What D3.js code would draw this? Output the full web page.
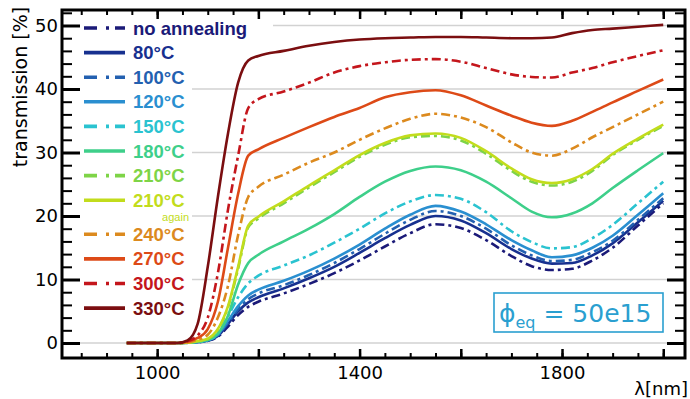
<!DOCTYPE html>
<html>
<head>
<meta charset="utf-8">
<script src="https://cdn.jsdelivr.net/npm/d3@7"></script>
<style>
  body { margin: 0; background: #fff; }
  svg text { font-family: "DejaVu Sans", sans-serif; }
</style>
</head>
<body>
<div class="div_d3"></div>
<script>
// wavelength grid (nm) the curves were read at
const lambda = [940, 1000, 1040, 1060, 1080, 1100, 1120, 1140, 1160, 1180, 1200, 1250, 1300, 1350, 1400,
                1450, 1500, 1550, 1600, 1650, 1700, 1740, 1780, 1820, 1860, 1900, 1950, 2000]

// transmission [%] per annealing step
const noAnnealing = [0, 0, 0, 0.03, 0.12, 0.35, 1.0, 2.6, 4.4, 5.7, 6.5, 7.8, 9.3, 11.0, 13.0, 15.2, 17.3, 18.7, 18.1, 16.2, 13.7, 12.1, 11.5, 11.7, 13.0, 15.0, 18.5, 22.0]
const t80  = [0, 0, 0, 0.03, 0.13, 0.4, 1.1, 3.0, 5.0, 6.4, 7.2, 8.6, 10.2, 12.0, 14.2, 16.5, 18.6, 20.0, 19.3, 17.3, 14.8, 13.3, 12.5, 12.6, 13.8, 15.7, 19.0, 22.4]
const t100 = [0, 0, 0, 0.03, 0.14, 0.4, 1.2, 3.2, 5.3, 6.9, 7.8, 9.1, 10.7, 12.6, 14.8, 17.2, 19.4, 20.8, 20.0, 18.0, 15.4, 13.8, 12.9, 13.1, 14.3, 16.1, 19.4, 22.8]
const t120 = [0, 0, 0, 0.03, 0.15, 0.45, 1.3, 3.5, 5.8, 7.5, 8.4, 9.8, 11.4, 13.3, 15.5, 18.0, 20.2, 21.6, 20.7, 18.7, 16.2, 14.6, 13.5, 13.8, 15.0, 16.9, 20.2, 23.6]
const t150 = [0, 0, 0, 0.03, 0.15, 0.45, 1.5, 4.2, 7.2, 9.4, 10.6, 12.2, 13.8, 15.8, 18.0, 20.4, 22.3, 23.3, 22.7, 20.6, 17.6, 15.9, 14.9, 15.1, 16.5, 18.6, 22.0, 25.4]
const t180 = [0, 0, 0, 0.05, 0.2, 0.5, 1.5, 4.3, 9.2, 12.6, 13.9, 16.0, 18.0, 20.3, 23.0, 25.4, 27.1, 27.8, 27.2, 25.4, 22.8, 20.7, 19.8, 20.4, 22.0, 24.4, 27.2, 29.9]
const t210 = [0, 0, 0, 0.05, 0.25, 0.6, 2.1, 5.6, 11.7, 18.2, 19.6, 22.0, 24.5, 26.9, 29.3, 31.2, 32.4, 32.6, 31.9, 29.8, 27.1, 25.4, 24.8, 25.4, 27.1, 29.6, 32.0, 34.2]
const t210again = [0, 0, 0, 0.05, 0.3, 0.7, 2.2, 5.8, 12.0, 18.5, 19.9, 22.3, 24.8, 27.2, 29.6, 31.5, 32.7, 33.0, 32.3, 30.2, 27.5, 25.8, 25.2, 25.8, 27.4, 29.8, 32.2, 34.4]
const t240 = [0, 0, 0, 0.1, 0.5, 1.3, 4.0, 9.0, 17.0, 23.0, 24.6, 26.5, 28.4, 30.0, 32.0, 33.8, 35.3, 36.1, 35.5, 34.0, 31.6, 30.0, 29.5, 30.6, 32.4, 34.0, 36.0, 38.0]
const t270 = [0, 0, 0, 0.2, 0.8, 2.2, 6.5, 15.0, 23.5, 29.5, 30.5, 32.3, 34.0, 35.6, 37.0, 38.7, 39.5, 39.8, 39.0, 37.4, 35.8, 34.7, 34.2, 35.0, 36.4, 37.9, 39.7, 41.5]
const t300 = [0, 0, 0, 0.3, 1.2, 4.0, 11.0, 21.0, 29.5, 37.0, 38.4, 39.6, 41.0, 42.6, 43.6, 44.2, 44.6, 44.7, 44.3, 43.3, 42.3, 41.9, 41.8, 42.6, 43.3, 44.2, 45.2, 46.1]
const t330 = [0, 0, 0, 0.4, 3.0, 12.0, 23.0, 33.0, 41.0, 44.5, 45.2, 46.0, 46.8, 47.4, 47.8, 48.0, 48.1, 48.2, 48.2, 48.1, 48.0, 48.0, 48.1, 48.8, 49.3, 49.5, 49.8, 50.1]

const labels = ["no annealing", "80°C", "100°C", "120°C", "150°C", "180°C", "210°C", "210°C", "240°C", "270°C", "300°C", "330°C"]
const yTicks = [0, 10, 20, 30, 40, 50]
const xLabelled = [1000, 1400, 1800]

// styling per series (jet-ish colours, dash-dot vs solid)
const seriesValues = [noAnnealing, t80, t100, t120, t150, t180, t210, t210again, t240, t270, t300, t330]
const colors = ["#1b1a78", "#17308f", "#2360b0", "#2a8fd0", "#2ac3d0", "#3ecf8a",
                "#7ed447", "#c2dc1c", "#dc8a1e", "#dd4a17", "#c4161c", "#7b0e10"]
const dashed = [true, false, true, false, true, false, true, false, true, false, true, false]

const W = 690, H = 399
const frame = {left: 62, right: 685, top: 10, bottom: 358}

const svg = d3.select(".div_d3")
  .append("svg")
    .attr("width", W)
    .attr("height", H)

const x = d3.scaleLinear().domain([812, 2043]).range([frame.left, frame.right])
const y = d3.scaleLinear().domain([-2.36, 52.44]).range([frame.bottom, frame.top])

// grid lines
svg.append("g")
  .selectAll("line")
  .data(yTicks)
  .enter().append("line")
    .attr("x1", frame.left)
    .attr("x2", frame.right)
    .attr("y1", d => y(d))
    .attr("y2", d => y(d))
    .style("stroke", "#d2d2d2")
    .style("stroke-width", 1.6)

// legend background hides the grid behind it
svg.append("rect")
  .attr("x", frame.left + 1).attr("y", 40)
  .attr("width", 191 - frame.left).attr("height", 285)
  .style("fill", "#fff")
svg.append("rect")
  .attr("x", frame.left + 1).attr("y", 14)
  .attr("width", 272 - frame.left).attr("height", 28)
  .style("fill", "#fff")

// the curves
const line = d3.line()
  .x((d, i) => x(lambda[i]))
  .y(d => y(d))
  .curve(d3.curveMonotoneX)

svg.append("g")
  .selectAll("path")
  .data(seriesValues)
  .enter().append("path")
    .attr("d", d => line(d))
    .style("fill", "none")
    .style("stroke", (d, i) => colors[i])
    .style("stroke-width", 2.6)
    .style("stroke-dasharray", (d, i) => dashed[i] ? "9,4,3,4" : null)

// legend
const rowY = i => 28 + i * 24.6 + (i >= 8 ? 9.5 : 0)
const legend = svg.append("g")
  .selectAll("g")
  .data(labels)
  .enter().append("g")
    .attr("transform", (d, i) => `translate(0,${rowY(i)})`)

legend.append("line")
  .attr("x1", 84).attr("x2", 125)
  .style("stroke", (d, i) => colors[i])
  .style("stroke-width", 3.6)
  .style("stroke-dasharray", (d, i) => dashed[i] ? "13,9,3,6" : null)

legend.append("text")
  .attr("x", 133)
  .attr("y", 6.5)
  .text(d => d)
  .style("font-family", "'Liberation Sans', Arial, sans-serif")
  .style("font-weight", "bold")
  .style("font-size", "18.5px")
  .style("fill", (d, i) => colors[i])

// small note under the second 210°C entry
svg.append("text")
  .attr("x", 189)
  .attr("y", rowY(7) + 21.1)
  .attr("text-anchor", "end")
  .text("again")
  .style("font-family", "'Liberation Sans', Arial, sans-serif")
  .style("font-size", "11px")
  .style("fill", colors[7])

// axes: ticks point inward on all four sides
function styleAxis(g, w) {
  g.select(".domain").remove()
  g.selectAll(".tick line").style("stroke", "#000").style("stroke-width", w)
  g.selectAll("text").style("font-size", "18px").style("fill", "#000")
}

const yMinor = d3.range(0, 53, 2)
const yMajor = yTicks
const xMinor = d3.range(850, 2001, 50)
const xMajor = d3.range(1000, 2001, 200)

svg.append("g").attr("transform", `translate(${frame.left},0)`)
  .call(d3.axisLeft(y).tickValues(yMinor).tickSize(-10).tickFormat(""))
  .call(g => styleAxis(g, 2))
svg.append("g").attr("transform", `translate(${frame.left},0)`)
  .call(d3.axisLeft(y).tickValues(yMajor).tickSize(-18).tickPadding(4).tickFormat(d3.format("d")))
  .call(g => styleAxis(g, 3))

svg.append("g").attr("transform", `translate(${frame.right},0)`)
  .call(d3.axisRight(y).tickValues(yMinor).tickSize(-10).tickFormat(""))
  .call(g => styleAxis(g, 2))
svg.append("g").attr("transform", `translate(${frame.right},0)`)
  .call(d3.axisRight(y).tickValues(yMajor).tickSize(-18).tickFormat(""))
  .call(g => styleAxis(g, 3))

svg.append("g").attr("transform", `translate(0,${frame.bottom})`)
  .call(d3.axisBottom(x).tickValues(xMinor).tickSize(-5).tickFormat(""))
  .call(g => styleAxis(g, 2))
svg.append("g").attr("transform", `translate(0,${frame.bottom})`)
  .call(d3.axisBottom(x).tickValues(xMajor).tickSize(-9).tickPadding(8)
    .tickFormat(d => xLabelled.includes(d) ? d : ""))
  .call(g => styleAxis(g, 2.5))

svg.append("g").attr("transform", `translate(0,${frame.top})`)
  .call(d3.axisTop(x).tickValues(xMinor).tickSize(-5).tickFormat(""))
  .call(g => styleAxis(g, 2))
svg.append("g").attr("transform", `translate(0,${frame.top})`)
  .call(d3.axisTop(x).tickValues(xMajor).tickSize(-9).tickFormat(""))
  .call(g => styleAxis(g, 2.5))

// frame
svg.append("rect")
  .attr("x", frame.left).attr("y", frame.top)
  .attr("width", frame.right - frame.left)
  .attr("height", frame.bottom - frame.top)
  .style("fill", "none")
  .style("stroke", "#000")
  .style("stroke-width", 3)

// axis titles
svg.append("text")
  .attr("transform", "translate(27,87) rotate(-90)")
  .attr("text-anchor", "middle")
  .text("transmission [%]")
  .style("font-size", "19px")

svg.append("text")
  .attr("x", 688)
  .attr("y", 395)
  .attr("text-anchor", "end")
  .text("λ[nm]")
  .style("font-size", "18px")

// fluence box
const box = svg.append("g")
box.append("rect")
  .attr("x", 494).attr("y", 293)
  .attr("width", 169).attr("height", 39)
  .style("fill", "#fff")
  .style("stroke", "#2a9fd0")
  .style("stroke-width", 1.6)

const ann = box.append("text")
  .attr("x", 499)
  .attr("y", 322)
  .style("fill", "#2a9fd0")
  .style("font-size", "25px")
ann.append("tspan").text("ϕ")
ann.append("tspan").text("eq").attr("dy", 6).style("font-size", "16px")
ann.append("tspan").text(" = 50e15").attr("dy", -6)
</script>
</body>
</html>
